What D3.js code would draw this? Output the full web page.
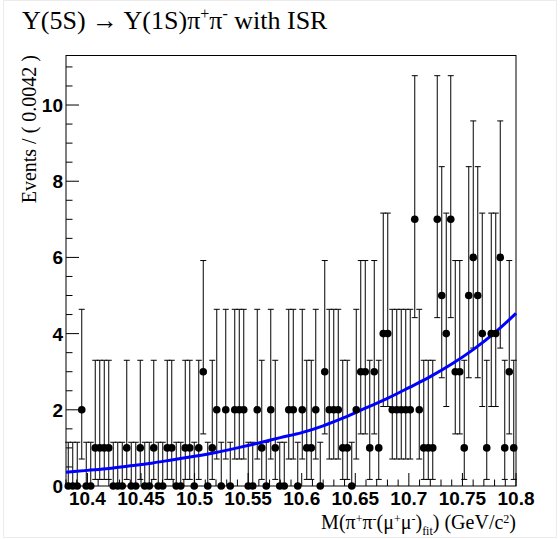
<!DOCTYPE html>
<html><head><meta charset="utf-8">
<script src="https://cdn.jsdelivr.net/npm/d3@7"></script>
<style>html,body{margin:0;padding:0;background:#fff;}svg{display:block;}</style>
</head><body>
<svg id="c" width="560" height="539"></svg>
<script>
// Data: 100 bins, 10.38 - 10.80 GeV/c^2, width 0.0042
const binLow = 10.38, binWidth = 0.0042;
const counts = [0,0,0,2,0,0,1,1,1,1, 0,0,0,1,0,0,1,0,0,1, 0,0,1,1,0,0,1,1,0,1, 3,0,1,2,0,2,0,2,2,2,
  0,0,2,1,0,2,1,0,0,2, 2,0,2,1,1,2,0,3,2,2, 2,1,1,0,2,3,3,1,3,1, 4,4,2,2,2,2,2,7,2,1,
  1,1,7,5,4,7,3,3,1,5, 6,5,4,1,4,4,6,1,3,1];
// Poisson (RooFit) asymmetric errors: [low, high] per count
const errLow  = [0, 0.827, 1.292, 1.633, 1.914, 2.159, 2.380, 2.581];
const errHigh = [1.148, 2.300, 2.638, 2.918, 3.163, 3.382, 3.583, 3.770];
// Fit curve readings
const curveX = [10.38,10.40,10.42,10.44,10.46,10.48,10.50,10.52,10.54,10.56,10.58,10.60,10.62,10.64,10.66,10.68,10.70,10.72,10.74,10.76,10.78,10.80];
const curveY = [0.36,0.41,0.46,0.53,0.60,0.69,0.78,0.88,1.00,1.13,1.27,1.40,1.58,1.80,2.05,2.30,2.58,2.87,3.20,3.58,4.02,4.53];
const xTicks = [10.4,10.45,10.5,10.55,10.6,10.65,10.7,10.75,10.8];
const yTicks = [0,2,4,6,8,10];

const svg = d3.select('#c');
const L = 66, R = 516, T = 55.5, B = 486;
const x = d3.scaleLinear().domain([10.38, 10.80]).range([L, R]);
const y = d3.scaleLinear().domain([0, 11.3]).range([B, T]);

// faint canvas border
svg.append('rect').attr('x',3.5).attr('y',0.5).attr('width',553).attr('height',537)
  .attr('fill','none').attr('stroke','#ececec');

// frame
svg.append('rect').attr('x',L).attr('y',T).attr('width',R-L).attr('height',B-T)
  .attr('fill','none').attr('stroke','#000').attr('stroke-width',1);

// x axis ticks (inward)
const xMinor = d3.range(0,43).map(i => 10.38 + i*0.01);
svg.append('g').selectAll('line').data(xMinor).join('line')
  .attr('x1', d => x(d)).attr('x2', d => x(d)).attr('y1', B)
  .attr('y2', d => (Math.abs(Math.round(d*20)/20 - d) < 1e-6) ? B-13 : B-6.5)
  .attr('stroke','#000');
svg.append('g').selectAll('text').data(xTicks).join('text')
  .attr('x', d => x(d)).attr('y', 505).attr('text-anchor','middle')
  .attr('font-family','Liberation Sans, Arial, sans-serif').attr('font-weight','bold').attr('font-size',19)
  .text(d => d3.format('')(d));

// y axis ticks
const yMinor = d3.range(0,23).map(i => i*0.5);
svg.append('g').selectAll('line').data(yMinor).join('line')
  .attr('y1', d => y(d)).attr('y2', d => y(d)).attr('x1', L)
  .attr('x2', d => (d % 2 === 0) ? L+13 : L+6.5)
  .attr('stroke','#000');
svg.append('g').selectAll('text').data(yTicks).join('text')
  .attr('x', 63).attr('y', d => y(d)+7).attr('text-anchor','end')
  .attr('font-family','Liberation Sans, Arial, sans-serif').attr('font-weight','bold').attr('font-size',19)
  .text(d => d);

// error bars
const bins = counts.map((c,i) => ({m: binLow + binWidth*(i+0.5), c}));
const eg = svg.append('g').attr('stroke','#000').attr('stroke-width',1);
bins.forEach(b => {
  const xc = x(b.m), lo = y(b.c - errLow[b.c]), hi = y(b.c + errHigh[b.c]);
  eg.append('line').attr('x1',xc).attr('x2',xc).attr('y1',lo).attr('y2',hi);
  eg.append('line').attr('x1',xc-3).attr('x2',xc+3).attr('y1',hi).attr('y2',hi);
  if (b.c > 0) eg.append('line').attr('x1',xc-3).attr('x2',xc+3).attr('y1',lo).attr('y2',lo);
});

// curve
const line = d3.line().x(d => x(d[0])).y(d => y(d[1])).curve(d3.curveMonotoneX);
svg.append('path').datum(curveX.map((v,i)=>[v,curveY[i]]))
  .attr('d', line).attr('fill','none').attr('stroke','#0000ff').attr('stroke-width',3);

// markers
svg.append('g').selectAll('circle').data(bins).join('circle')
  .attr('cx', d => x(d.m)).attr('cy', d => y(d.c)).attr('r', 3.8).attr('fill','#000');

// title
const title = svg.append('text').attr('x',22).attr('y',29)
  .attr('font-family','Liberation Serif, Times New Roman, serif').attr('font-size',26);
title.append('tspan').text('Υ(5S) → Υ(1S)π');
title.append('tspan').attr('dy',-10).attr('font-size',16).text('+');
title.append('tspan').attr('dy',10).text('π');
title.append('tspan').attr('dy',-10).attr('font-size',16).text('-');
title.append('tspan').attr('dy',10).text(' with ISR');

// y label
svg.append('text').attr('transform','translate(36,55) rotate(-90)').attr('text-anchor','end')
  .attr('font-family','Liberation Serif, Times New Roman, serif').attr('font-size',20)
  .text('Events / ( 0.0042 )');

// x label
const xl = svg.append('text').attr('x',516).attr('y',529).attr('text-anchor','end')
  .attr('font-family','Liberation Serif, Times New Roman, serif').attr('font-size',20);
xl.append('tspan').text('M(π');
xl.append('tspan').attr('dy',-6).attr('font-size',12).text('+');
xl.append('tspan').attr('dy',6).text('π');
xl.append('tspan').attr('dy',-6).attr('font-size',12).text('-');
xl.append('tspan').attr('dy',6).text('(μ');
xl.append('tspan').attr('dy',-6).attr('font-size',12).text('+');
xl.append('tspan').attr('dy',6).text('μ');
xl.append('tspan').attr('dy',-6).attr('font-size',12).text('-');
xl.append('tspan').attr('dy',6).text(')');
xl.append('tspan').attr('dy',6).attr('font-size',12).text('fit');
xl.append('tspan').attr('dy',-6).text(') (GeV/c');
xl.append('tspan').attr('dy',-6).attr('font-size',12).text('2');
xl.append('tspan').attr('dy',6).text(')');
</script>
</body></html>
